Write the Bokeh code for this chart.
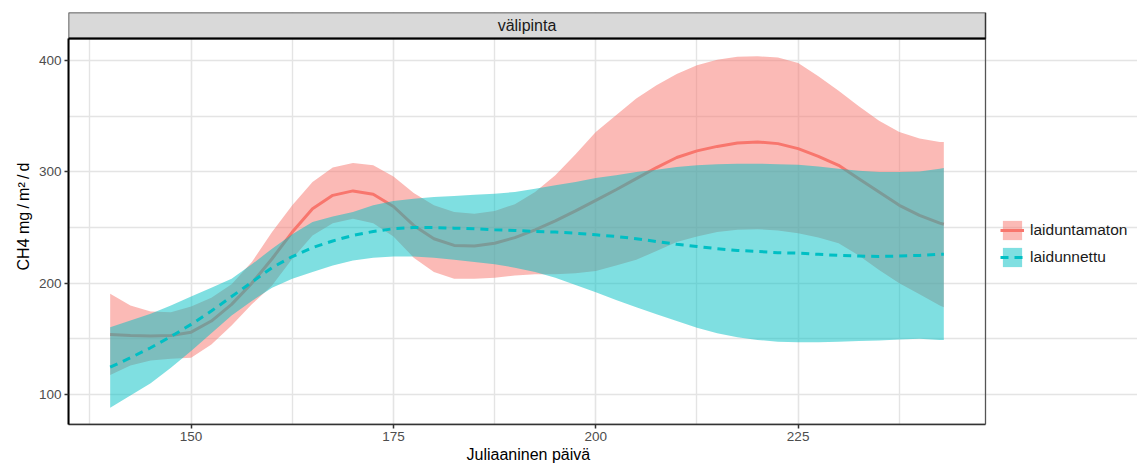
from bokeh.plotting import figure
from bokeh.models import (Range1d, FixedTicker, Legend, LegendItem, Title, ColumnDataSource)
from bokeh.core.properties import value
from bokeh.embed import file_html
from bokeh.resources import INLINE

# ---- data: loess fits of CH4 flux with 95% confidence bands ----
facet = "välipinta"
groups = ["laiduntamaton", "laidunnettu"]

day = [140, 142.5, 145, 147.5, 150, 152.5, 155, 157.5, 160, 162.5, 165, 167.5,
       170, 172.5, 175, 177.5, 180, 182.5, 185, 187.5, 190, 192.5, 195, 197.5,
       200, 202.5, 205, 207.5, 210, 212.5, 215, 217.5, 220, 222.5, 225, 227.5,
       230, 232.5, 235, 237.5, 240, 242.5, 243]

laiduntamaton_fit = [154, 153, 152.5, 153, 156, 166, 181, 200, 222, 246, 267, 279,
                     283, 280, 269, 252, 240, 234, 233.5, 236, 241, 248, 256, 265,
                     274.5, 284, 294, 304, 313, 319, 323, 326, 327, 325.5, 321, 314,
                     306, 294, 282, 270, 261, 254, 253]
laiduntamaton_hi = [190.5, 180, 174.5, 174, 179, 187, 199, 219, 246, 270, 291, 304,
                    308, 306, 296, 281, 270, 264, 262.5, 265, 271, 282, 297, 316,
                    336, 351, 366, 378, 388, 396, 401, 403.5, 404, 403, 398, 386,
                    373, 359, 346, 336, 330, 327, 327]
laiduntamaton_lo = [117.5, 126, 130.5, 132, 133, 145, 162, 181, 198, 222, 243, 254,
                    258, 254, 242, 223, 210, 204, 204, 205, 207, 208, 208, 209,
                    211, 216, 221, 229, 237, 242, 246, 248, 248.5, 247.5, 245, 241,
                    236, 225, 212, 200, 190, 180, 178.5]

laidunnettu_fit = [124.5, 133, 142, 152, 163, 175, 188, 201, 214, 224, 232, 238,
                   243, 246.5, 249, 250, 250, 249.5, 249, 248, 247.5, 246.5, 246, 245,
                   243.5, 242, 240, 237.5, 235, 233, 231, 229.5, 228.5, 227.5, 227, 226,
                   225, 224.5, 224, 224.5, 225, 226, 226]
laidunnettu_hi = [160.5, 166.5, 172.5, 180, 188, 196, 204, 217, 231, 244, 255, 260,
                  264, 270, 274, 276, 277.5, 278.5, 279.5, 280.5, 282, 285, 288, 291,
                  294.5, 297, 300, 302, 304.5, 306, 307, 307.5, 307.5, 307, 306.5, 305,
                  303, 301, 300, 300, 300.5, 303, 303.5]
laidunnettu_lo = [88, 99, 110, 124, 139, 155, 171, 184, 196, 204, 210, 216,
                  220.5, 223, 224, 224, 223, 221, 219, 217, 214, 210, 205, 198.5,
                  192, 185, 178.5, 172, 166, 160, 155, 151.5, 149, 147.5, 147, 147,
                  147.5, 148, 148.5, 149.5, 150, 149, 149]

x_ticks = [150, 175, 200, 225]
x_minor = [137.5, 162.5, 187.5, 212.5, 237.5]
y_ticks = [100, 200, 300, 400]
y_minor = [150, 250, 350]

FONT = "Liberation Sans"
RED = "#F8766D"
TEAL = "#00BFC4"
GRID = "#E4E4E4"

# ---- geometry (pixels) ----
W, H = 1137, 464
LEFT, TOP, BOTTOM = 68, 12, 40          # borders around the drawing frame
PANEL_RIGHT_PX = 985                    # right edge of the data panel
STRIP_PX = 26                           # height of the facet strip

# data window of the panel; the frame also holds the strip above it
# and the legend area to its right, so the ranges are extended to match
X0, X1 = 134.85, 248.15
Y0, Y1 = 73, 420
panel_w = PANEL_RIGHT_PX - LEFT
panel_h = H - TOP - BOTTOM - STRIP_PX
x_per_px = (X1 - X0) / panel_w
y_per_px = (Y1 - Y0) / panel_h
X_END = X1 + (W - PANEL_RIGHT_PX) * x_per_px
Y_END = Y1 + STRIP_PX * y_per_px

p = figure(width=W, height=H, x_range=Range1d(X0, X_END), y_range=Range1d(Y0, Y_END),
           toolbar_location=None, output_backend="svg",
           min_border_left=LEFT, min_border_right=0, min_border_top=TOP,
           min_border_bottom=BOTTOM)
p.background_fill_color = "white"
p.border_fill_color = "white"
p.outline_line_color = None

p.xaxis.ticker = FixedTicker(ticks=x_ticks, minor_ticks=x_minor)
p.yaxis.ticker = FixedTicker(ticks=y_ticks, minor_ticks=y_minor)
p.xaxis.bounds = (X0, X1)
p.yaxis.bounds = (Y0, Y1)
p.xgrid.bounds = (Y0, Y1)
p.ygrid.bounds = (X0, X1)
for g in (p.xgrid, p.ygrid):
    g.grid_line_color = GRID
    g.grid_line_width = 1.6
    g.minor_grid_line_color = GRID
    g.minor_grid_line_width = 1.4

for ax in (p.xaxis, p.yaxis):
    ax.minor_tick_line_color = None
    ax.major_tick_out = 4
    ax.major_tick_in = 0
    ax.major_tick_line_color = "#333333"
    ax.major_tick_line_width = 1.5
    ax.major_label_text_font = FONT
    ax.major_label_text_font_size = "13.5px"
    ax.major_label_text_color = "#4D4D4D"
    ax.major_label_standoff = 3

p.xaxis.axis_line_color = "#333333"
p.xaxis.axis_line_width = 1.5
p.yaxis.axis_line_color = "black"
p.yaxis.axis_line_width = 2

# axis titles as side titles, positioned along the panel
ytitle = Title(text="CH4 mg\u2009/\u2009m²\u2009/\u2009d", align="right", offset=150,
               text_font=FONT, text_font_size="16px", text_font_style="normal",
               text_color="black", standoff=8)
p.add_layout(ytitle, "left")
xtitle = Title(text="Juliaaninen päivä", align="left", offset=398,
               text_font=FONT, text_font_size="16px", text_font_style="normal",
               text_color="black", standoff=0)
p.add_layout(xtitle, "below")

src_a = ColumnDataSource(dict(x=day, y=laiduntamaton_fit, lo=laiduntamaton_lo, hi=laiduntamaton_hi))
src_b = ColumnDataSource(dict(x=day, y=laidunnettu_fit, lo=laidunnettu_lo, hi=laidunnettu_hi))

band_a = p.varea(x="x", y1="lo", y2="hi", source=src_a, fill_color=RED, fill_alpha=0.5)
line_a = p.line(x="x", y="y", source=src_a, line_color=RED, line_width=3)
band_b = p.varea(x="x", y1="lo", y2="hi", source=src_b, fill_color=TEAL, fill_alpha=0.5)
line_b = p.line(x="x", y="y", source=src_b, line_color=TEAL, line_width=3,
                line_dash="8 6")

# panel border and facet strip
p.quad(left=[X0], right=[X1], bottom=[Y0], top=[Y1], fill_color=None,
       line_color="#555555", line_width=1.3)
p.quad(left=[X0], right=[X1], bottom=[Y1], top=[Y_END], fill_color="#D9D9D9",
       line_color="#333333", line_width=1.5)
p.segment(x0=[X0], x1=[X1], y0=[Y1], y1=[Y1], line_color="black", line_width=2)
p.text(x=[(X0 + X1) / 2], y=[(Y1 + Y_END) / 2], text=[facet], text_align="center",
       text_baseline="middle", text_font=value(FONT), text_font_size="16px",
       text_color="#1A1A1A")

legend = Legend(items=[LegendItem(label=groups[0], renderers=[band_a, line_a]),
                       LegendItem(label=groups[1], renderers=[band_b, line_b])],
                location=(1000 - LEFT, 155), orientation="vertical",
                glyph_width=24, glyph_height=24, spacing=3, padding=0, margin=0,
                label_standoff=6, label_text_font=FONT,
                label_text_font_size="15.5px", label_text_color="#1A1A1A",
                label_height=24, border_line_color=None,
                background_fill_alpha=0)
p.add_layout(legend)

open("out.html", "w").write(file_html(p, INLINE))
